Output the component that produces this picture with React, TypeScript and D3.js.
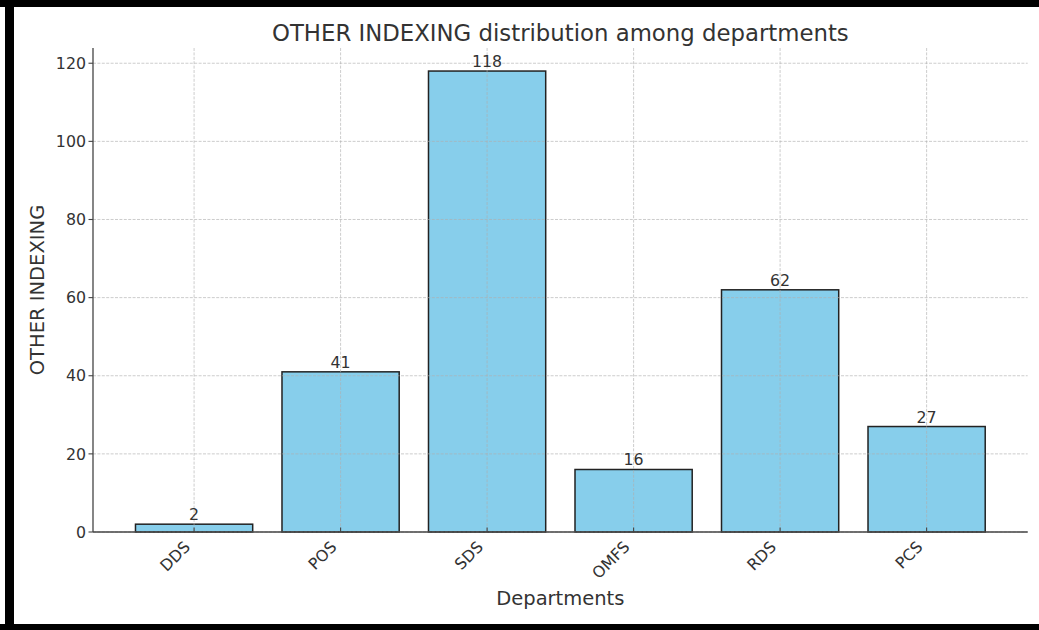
import React from "react";
import * as d3 from "d3";

const categories: string[] = ["DDS", "POS", "SDS", "OMFS", "RDS", "PCS"];
const values: number[] = [2, 41, 118, 16, 62, 27];
const yTicks: number[] = [0, 20, 40, 60, 80, 100, 120];
const titleText = "OTHER INDEXING distribution among departments";
const xLabel = "Departments";
const yLabel = "OTHER INDEXING";

const W = 1039;
const H = 630;
const FONT = "'DejaVu Sans', sans-serif";
const TXT = "#333333";

export default function App() {
  const left = 93;
  const right = 1027.7;
  const top = 48;
  const bottom = 532;
  const n = categories.length;
  const lo = -0.4;
  const hi = n - 1 + 0.4;
  const m = (hi - lo) * 0.05;
  const x = d3.scaleLinear().domain([lo - m, hi + m]).range([left, right]);
  const yMax = (d3.max(values) as number) * 1.05;
  const y = d3.scaleLinear().domain([0, yMax]).range([bottom, top]);
  const halfW = (x(0.4) - x(0));

  return (
    <div style={{ position: "fixed", left: 0, top: 0 }}>
      <svg width={W} height={H} style={{ display: "block", fontFamily: FONT }}>
        <rect x={0} y={0} width={W} height={H} fill="#ffffff" />
        {/* frame */}
        <rect x={0} y={0} width={W} height={7} fill="#000" />
        <rect x={5} y={0} width={9} height={H} fill="#000" />
        <rect x={0} y={624} width={W} height={6} fill="#000" />

        {/* title */}
        <text x={(left + right) / 2} y={40.5} textAnchor="middle" fontSize={22.8} fill={TXT}>
          {titleText}
        </text>

        {/* bars */}
        {values.map((v, i) => (
          <rect
            key={"b" + i}
            x={x(i) - halfW}
            y={y(v)}
            width={halfW * 2}
            height={bottom - y(v)}
            fill="#87CEEB"
            stroke="#222"
            strokeWidth={1.5}
          />
        ))}

        {/* grid on top */}
        <g stroke="#b0b0b0" strokeOpacity={0.7} strokeWidth={0.9} strokeDasharray="3,1.4">
          {yTicks.map((t) => (
            <line key={"gy" + t} x1={left} x2={right} y1={y(t)} y2={y(t)} />
          ))}
          {categories.map((c, i) => (
            <line key={"gx" + c} x1={x(i)} x2={x(i)} y1={top} y2={bottom} />
          ))}
        </g>

        {/* value labels */}
        {values.map((v, i) => (
          <text key={"v" + i} x={x(i)} y={y(v) - 4} textAnchor="middle" fontSize={15.8} fill={TXT}>
            {v}
          </text>
        ))}

        {/* spines */}
        <line x1={left} x2={left} y1={top} y2={bottom} stroke="#444" strokeWidth={1.3} />
        <line x1={left} x2={right} y1={bottom} y2={bottom} stroke="#444" strokeWidth={1.3} />

        {/* y ticks */}
        {yTicks.map((t) => (
          <g key={"yt" + t}>
            <line x1={left - 4.5} x2={left} y1={y(t)} y2={y(t)} stroke="#444" strokeWidth={1.1} />
            <text x={86} y={y(t)} dy="0.36em" textAnchor="end" fontSize={15.8} fill={TXT}>
              {t}
            </text>
          </g>
        ))}

        {/* x ticks */}
        {categories.map((c, i) => (
          <g key={"xt" + c}>
            <line x1={x(i)} x2={x(i)} y1={bottom - 4.5} y2={bottom} stroke="#444" strokeWidth={1.1} />
            <text
              transform={`translate(${x(i) - 3},${bottom + 16}) rotate(-45)`}
              textAnchor="end"
              fontSize={15.8}
              fill={TXT}
            >
              {c}
            </text>
          </g>
        ))}

        {/* axis labels */}
        <text x={(left + right) / 2} y={605} textAnchor="middle" fontSize={19.5} fill={TXT}>
          {xLabel}
        </text>
        <text
          transform={`translate(44,${(top + bottom) / 2}) rotate(-90)`}
          textAnchor="middle"
          fontSize={19.5}
          fill={TXT}
        >
          {yLabel}
        </text>
      </svg>
    </div>
  );
}
